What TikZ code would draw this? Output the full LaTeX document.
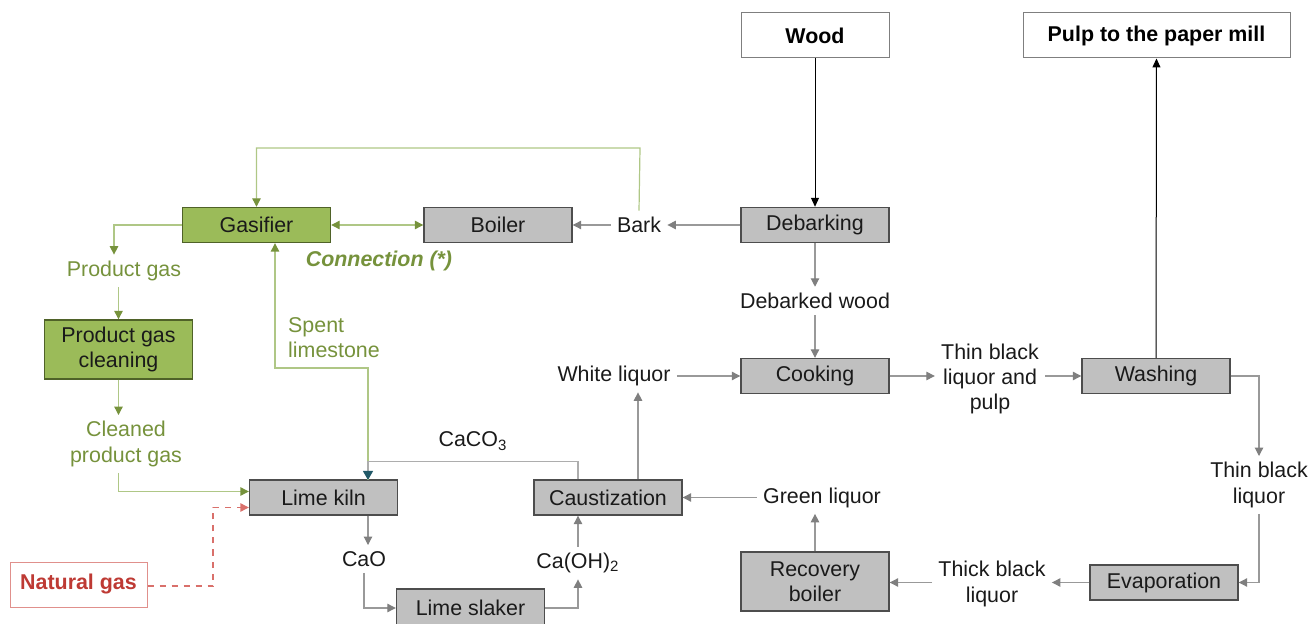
\documentclass[tikz,border=0pt]{standalone}
\usepackage{fontspec}
\setmainfont{Liberation Sans}
\usetikzlibrary{arrows.meta,positioning}
\definecolor{boxgray}{HTML}{C0C0C0}
\definecolor{edgegray}{HTML}{4D4D4D}
\definecolor{linegray}{HTML}{999999}
\definecolor{tipgray}{HTML}{7F7F7F}
\definecolor{txtgray}{HTML}{1A1A1A}
\definecolor{boxgreen}{HTML}{9BBB59}
\definecolor{edgegreen}{HTML}{4F6228}
\definecolor{txtgreen}{HTML}{76923C}
\definecolor{linegreen}{HTML}{AFC786}
\definecolor{txtred}{HTML}{BE3A34}
\definecolor{edgered}{HTML}{E0908C}
\definecolor{linered}{HTML}{D9706B}
\definecolor{tipteal}{HTML}{215968}

\begin{document}
\begin{tikzpicture}[x=0.5pt,y=-0.5pt,
	every node/.style={font=\fontsize{10.7}{12.6}\selectfont,text=txtgray},
	proc/.style={draw=edgegray,line width=0.7pt,fill=boxgray,minimum width=74pt,minimum height=17.5pt,inner sep=1pt,align=center},
	gproc/.style={proc,draw=edgegreen,fill=boxgreen},
	endbox/.style={draw=tipgray,line width=0.5pt,fill=white,minimum height=22.5pt,inner sep=4pt,font=\fontsize{10.7}{12.6}\selectfont\bfseries,text=black},
	lbl/.style={inner sep=3pt,align=center},
	glbl/.style={lbl,text=txtgreen},
	flow/.style={draw=linegray,line width=0.55pt,-{Triangle[length=4.2pt,width=4.2pt,color=tipgray]}},
	bflow/.style={draw=black,line width=0.5pt,-{Triangle[length=4.5pt,width=4pt]}},
	gflow/.style={draw=linegreen,line width=0.6pt,-{Triangle[length=4.2pt,width=4.2pt,color=txtgreen]}},
	gboth/.style={draw=linegreen,line width=0.6pt,{Triangle[length=4.2pt,width=4.2pt,color=txtgreen]}-{Triangle[length=4.2pt,width=4.2pt,color=txtgreen]}},
	caflow/.style={draw=linegray!80,line width=0.55pt,-{Triangle[length=4.5pt,width=5pt,color=tipteal]}},
	ngflow/.style={draw=linered,line width=0.6pt,dashed,-{Triangle[length=4.2pt,width=4.2pt,color=linered]}}]
	\useasboundingbox (0,0) rectangle (1311,624);

	% end points
	\node[endbox,minimum width=74pt]	(wood)		at (815,35.5)	{Wood};
	\node[endbox,minimum width=133.5pt]	(pulp)		at (1156.5,35.5)	{Pulp to the paper mill};
	\node[endbox,draw=edgered,minimum width=68.5pt,text=txtred] (natgas) at (78.5,584.5) {Natural gas};

	% process units
	\node[proc]		(debark)	at (815,225)	{Debarking};
	\node[proc]		(boiler)	at (498,225)	{Boiler};
	\node[gproc]	(gasif)		at (256.5,225)	{Gasifier};
	\node[gproc,minimum height=29.5pt] (pgclean) at (118.5,349.5) {Product gas\\cleaning};
	\node[proc]		(kiln)		at (323.5,497.5)	{Lime kiln};
	\node[proc,minimum height=19pt]	(slaker)	at (470.5,608)	{Lime slaker};
	\node[proc]		(caust)		at (608,497.5)	{Caustization};
	\node[proc,minimum height=29.5pt] (recov) at (815,581.5) {Recovery\\boiler};
	\node[proc]		(evap)		at (1164,582.5)	{Evaporation};
	\node[proc]		(wash)		at (1156,376)	{Washing};
	\node[proc]		(cook)		at (815,376)	{Cooking};

	% streams
	\node[lbl]		(bark)		at (639,225)	{Bark};
	\node[lbl]		(debarked)	at (815,301)	{Debarked wood};
	\node[lbl]		(white)		at (614,376)	{White liquor};
	\node[lbl]		(tblp)		at (990,379)	{Thin black\\liquor and\\pulp};
	\node[lbl]		(tbl)		at (1259,485)	{Thin black\\liquor};
	\node[lbl]		(thick)		at (992,584)	{Thick black\\liquor};
	\node[lbl]		(green)		at (822,497.5)	{Green liquor};
	\node[lbl]		(caoh)		at (578,563)	{Ca(OH)\textsubscript{2}};
	\node[lbl]		(cao)		at (364,559)	{CaO};
	\node[lbl]		(caco)		at (473,441)	{CaCO\textsubscript{3}};
	\node[glbl]		(pgas)		at (124,271)	{Product gas};
	\node[glbl]		(cleaned)	at (126,444)	{Cleaned\\product gas};
	\node[glbl,align=left] (spent) at (334,338)	{Spent\\limestone};
	\node[glbl,font=\fontsize{10.7}{12.6}\selectfont\bfseries\itshape] (conn) at (379,261) {Connection (*)};

	\coordinate (barktop)	at (640,148);
	\coordinate (kilntop)	at (368,480);
	\coordinate (slbend)	at (275,368);
	\coordinate (cabend)	at (368,461.5);
	\coordinate (ngbend)	at (213,586);

	% wood and pulp line
	\draw[bflow] (wood) -- (debark);
	\draw[bflow] (wash) -- (pulp);
	\draw[flow] (debark) -- (bark);
	\draw[flow] (bark) -- (boiler);
	\draw[flow] (debark) -- (debarked);
	\draw[flow] (debarked) -- (cook);
	\draw[flow] (cook) -- (cook -| tblp.west);
	\draw[flow] (wash -| tblp.east) -- (wash);
	\draw[flow] (wash.east) -| (tbl.north);
	\draw[flow] (tbl.south) |- (evap.east);
	\draw[flow] (evap.west) -- (evap.west -| thick.east);
	\draw[flow] (evap.west -| thick.west) -- (evap.west -| recov.east);
	\draw[flow] (recov) -- (recov |- green.south);
	\draw[flow] (green) -- (caust);
	\draw[flow] ([xshift=15pt]caust.north) -- ([xshift=15pt]caust.north |- white.south);
	\draw[flow] (white) -- (cook);

	% gasifier connection
	\draw[gflow] (bark.north) -- (barktop) -| (gasif.north);
	\draw[gboth] (gasif) -- (boiler);
	\draw[gflow] (gasif.west) -| ([xshift=-5pt]pgas.north);
	\draw[gflow] (pgclean.north |- pgas.south) -- (pgclean.north);
	\draw[gflow] (pgclean.south) -- (pgclean.south |- cleaned.north);
	\draw[gflow] (pgclean.south |- cleaned.south) |- ([yshift=3pt]kiln.west);
	\draw[gflow] (kilntop) |- (slbend) -- (slbend |- gasif.south);
	\draw[ngflow] (natgas.east |- ngbend) -- (ngbend) |- ([yshift=-5pt]kiln.west);

	% lime cycle
	\draw[caflow] ([xshift=-15pt]caust.north) |- (cabend) -- (kilntop);
	\draw[flow] (kilntop |- kiln.south) -- (kilntop |- cao.north);
	\draw[flow] (cao.south) |- (slaker.west);
	\draw[flow] (slaker.east) -| (caoh.south);
	\draw[flow] (caoh.north) -- (caoh.north |- caust.south);
\end{tikzpicture}
\end{document}
